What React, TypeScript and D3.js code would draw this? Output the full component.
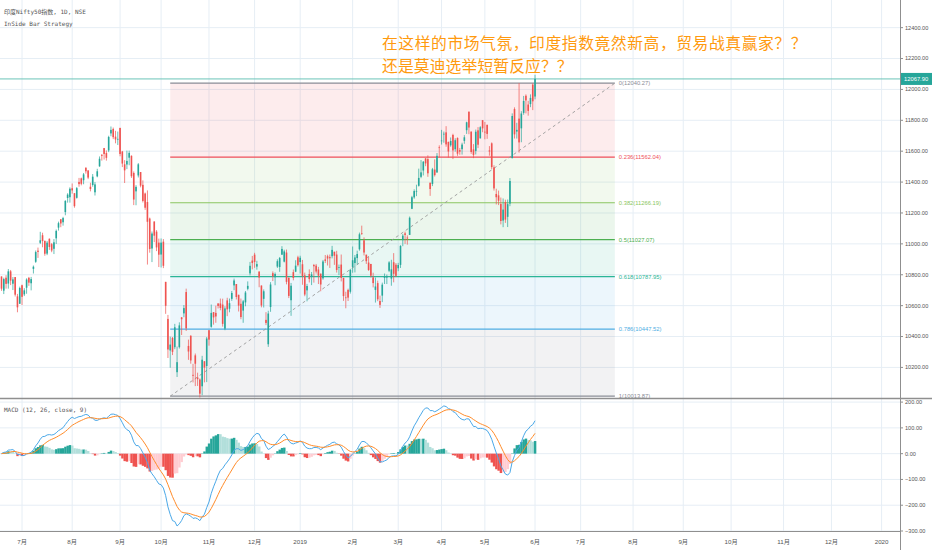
import React, { useRef, useEffect } from "react";
import * as d3 from "d3";

const WIDTH = 932;
const HEIGHT = 550;

// daily candles [open, high, low, close], 2018-06-19 .. 2019-06-03
const candles: number[][] = [
  [10789, 10789, 10696, 10710], [10697, 10781, 10675, 10772], [10781, 10797, 10710, 10741],
  [10743, 10837, 10710, 10822], [10822, 10831, 10733, 10762], [10742, 10785, 10701, 10770],
  [10785, 10785, 10659, 10671], [10660, 10676, 10557, 10589], [10612, 10723, 10612, 10714],
  // Jul
  [10732, 10736, 10604, 10657], [10673, 10713, 10662, 10699], [10716, 10777, 10677, 10769],
  [10780, 10786, 10728, 10749], [10745, 10786, 10699, 10772], [10838, 10860, 10808, 10852],
  [10884, 10957, 10877, 10947], [10956, 10976, 10909, 10948], [11007, 11078, 10999, 11023],
  [11056, 11072, 10978, 11018], [11020, 11020, 10923, 10936], [10937, 11019, 10927, 11008],
  [11033, 11035, 10961, 10980], [10998, 11006, 10946, 10957], [10968, 11031, 10934, 11010],
  [11036, 11093, 10999, 11084], [11105, 11144, 11086, 11134], [11159, 11161, 11108, 11132],
  [11140, 11175, 11118, 11167], [11206, 11283, 11185, 11278], [11297, 11328, 11267, 11319],
  [11302, 11366, 11267, 11357],
  // Aug
  [11360, 11391, 11325, 11346], [11328, 11328, 11234, 11244], [11298, 11368, 11293, 11361],
  [11401, 11427, 11370, 11387], [11424, 11429, 11379, 11389], [11412, 11459, 11386, 11450],
  [11493, 11495, 11455, 11470], [11475, 11478, 11419, 11429], [11370, 11396, 11340, 11355],
  [11381, 11452, 11370, 11435], [11334, 11400, 11313, 11385], [11437, 11486, 11431, 11470],
  [11502, 11566, 11499, 11551], [11576, 11582, 11539, 11570], [11620, 11621, 11546, 11582],
  [11588, 11605, 11539, 11557], [11605, 11700, 11594, 11692], [11715, 11760, 11697, 11738],
  [11744, 11753, 11678, 11691], [11694, 11732, 11651, 11676], [11675, 11727, 11640, 11680],
  // Sep
  [11751, 11751, 11567, 11582], [11598, 11602, 11497, 11520], [11515, 11542, 11394, 11476],
  [11514, 11604, 11484, 11537], [11558, 11604, 11509, 11589], [11570, 11573, 11427, 11438],
  [11459, 11469, 11251, 11287], [11340, 11380, 11250, 11369], [11443, 11523, 11430, 11515],
  [11465, 11465, 11366, 11377], [11382, 11411, 11268, 11278], [11326, 11332, 11220, 11234],
  [11271, 11346, 10866, 11143], [11164, 11170, 10943, 10967], [10970, 11080, 10882, 11067],
  [11145, 11145, 11011, 11053], [11079, 11089, 10953, 10977], [11008, 11034, 10850, 10930],
  // Oct
  [10931, 11035, 10847, 11008], [11014, 11031, 10843, 10858], [10754, 10754, 10547, 10599],
  [10514, 10540, 10261, 10316], [10310, 10399, 10198, 10348], [10391, 10397, 10280, 10301],
  [10331, 10482, 10318, 10460], [10169, 10335, 10138, 10234], [10331, 10492, 10322, 10472],
  [10524, 10526, 10410, 10512], [10550, 10604, 10525, 10584], [10688, 10710, 10436, 10453],
  [10339, 10380, 10249, 10303], [10405, 10408, 10224, 10245], [10152, 10223, 10103, 10146],
  [10278, 10290, 10079, 10224], [10135, 10166, 10080, 10124], [10122, 10129, 10005, 10030],
  [10078, 10275, 10020, 10250], [10240, 10240, 10103, 10199], [10209, 10397, 10105, 10387],
  // Nov
  [10441, 10441, 10341, 10380], [10463, 10607, 10457, 10553], [10558, 10558, 10477, 10524],
  [10553, 10600, 10489, 10530], [10614, 10616, 10582, 10598], [10614, 10646, 10570, 10585],
  [10607, 10645, 10464, 10482], [10451, 10596, 10441, 10582], [10634, 10651, 10532, 10576],
  [10580, 10646, 10557, 10616], [10644, 10695, 10631, 10682], [10731, 10775, 10700, 10763],
  [10740, 10740, 10640, 10656], [10670, 10671, 10562, 10600], [10612, 10646, 10512, 10526],
  [10568, 10637, 10489, 10628], [10621, 10695, 10596, 10685], [10709, 10757, 10699, 10728],
  [10809, 10883, 10796, 10858], [10892, 10922, 10835, 10876],
  // Dec
  [10930, 10942, 10845, 10883], [10853, 10890, 10833, 10869], [10821, 10821, 10719, 10782],
  [10730, 10731, 10589, 10601], [10644, 10705, 10588, 10693], [10508, 10558, 10474, 10488],
  [10350, 10567, 10333, 10549], [10591, 10752, 10560, 10737], [10810, 10822, 10759, 10791],
  [10784, 10815, 10732, 10805], [10853, 10900, 10844, 10888], [10850, 10915, 10819, 10908],
  [10930, 10985, 10929, 10967], [10885, 10962, 10880, 10951], [10944, 10963, 10738, 10754],
  [10780, 10783, 10649, 10663], [10635, 10747, 10534, 10729], [10817, 10834, 10764, 10779],
  [10820, 10894, 10817, 10859], [10913, 10923, 10853, 10862],
  // Jan 2019
  [10882, 10923, 10808, 10910], [10868, 10896, 10735, 10792], [10796, 10814, 10661, 10672],
  [10699, 10741, 10628, 10727], [10805, 10835, 10750, 10772], [10786, 10818, 10733, 10802],
  [10863, 10870, 10749, 10855], [10859, 10870, 10808, 10821], [10834, 10851, 10740, 10794],
  [10807, 10808, 10693, 10737], [10777, 10896, 10768, 10886], [10899, 10928, 10876, 10890],
  [10920, 10930, 10860, 10905], [10914, 10931, 10844, 10907], [10920, 10987, 10906, 10961],
  [10949, 10949, 10864, 10923], [10931, 10955, 10814, 10831], [10844, 10866, 10798, 10849],
  [10866, 10931, 10757, 10780], [10780, 10780, 10631, 10662], [10653, 10690, 10583, 10652],
  [10702, 10710, 10630, 10652], [10690, 10838, 10678, 10831],
  // Feb
  [10851, 10983, 10813, 10894], [10876, 10928, 10815, 10912], [10908, 10956, 10867, 10934],
  [10965, 11073, 10956, 11062], [11070, 11118, 11058, 11069], [11023, 11042, 10925, 10944],
  [10930, 10930, 10870, 10888], [10879, 10916, 10825, 10831], [10870, 10870, 10782, 10794],
  [10783, 10813, 10718, 10746], [10702, 10782, 10620, 10724], [10746, 10762, 10629, 10641],
  [10630, 10665, 10585, 10605], [10665, 10749, 10623, 10736], [10780, 10808, 10740, 10789],
  [10782, 10801, 10740, 10792], [10826, 10888, 10817, 10880], [10775, 10897, 10729, 10835],
  [10881, 10940, 10751, 10806], [10865, 10876, 10785, 10793],
  // Mar
  [10842, 10877, 10823, 10863], [10864, 10991, 10844, 10987], [11024, 11063, 10985, 11053],
  [11068, 11079, 11000, 11058], [11041, 11055, 10995, 11035], [11058, 11177, 11058, 11169],
  [11227, 11311, 11225, 11302], [11301, 11353, 11292, 11342], [11343, 11383, 11309, 11343],
  [11376, 11487, 11371, 11427], [11434, 11543, 11425, 11463], [11475, 11536, 11443, 11532],
  [11553, 11556, 11503, 11521], [11549, 11573, 11434, 11457], [11396, 11396, 11311, 11355],
  [11388, 11492, 11374, 11483], [11481, 11547, 11436, 11445], [11463, 11588, 11459, 11570],
  [11625, 11638, 11560, 11624],
  // Apr
  [11665, 11738, 11643, 11669], [11712, 11727, 11655, 11713], [11722, 11762, 11629, 11644],
  [11660, 11662, 11559, 11598], [11638, 11689, 11629, 11666], [11705, 11713, 11549, 11605],
  [11613, 11684, 11597, 11671], [11686, 11689, 11570, 11584], [11607, 11621, 11577, 11597],
  [11613, 11655, 11578, 11643], [11667, 11704, 11648, 11690], [11736, 11791, 11712, 11787],
  [11856, 11856, 11710, 11753], [11727, 11727, 11583, 11595], [11612, 11646, 11555, 11576],
  [11602, 11740, 11579, 11726], [11735, 11756, 11620, 11642], [11683, 11762, 11683, 11755],
  [11801, 11801, 11723, 11748],
  // May
  [11726, 11789, 11677, 11725], [11771, 11771, 11680, 11712], [11605, 11633, 11571, 11598],
  [11651, 11657, 11484, 11497], [11495, 11509, 11345, 11359], [11323, 11357, 11255, 11302],
  [11314, 11345, 11251, 11279], [11258, 11300, 11126, 11148], [11151, 11294, 11108, 11222],
  [11271, 11286, 11136, 11157], [11175, 11287, 11109, 11257], [11261, 11426, 11244, 11407],
  [11555, 11845, 11554, 11828], [11873, 11884, 11682, 11709], [11727, 11784, 11682, 11738],
  [11811, 12041, 11591, 11657], [11748, 11859, 11658, 11844], [11848, 11958, 11836, 11925],
  [11959, 11968, 11845, 11929], [11902, 11926, 11830, 11861], [11905, 11968, 11885, 11945],
  [12031, 12039, 11866, 11923],
  // Jun 3
  [11954, 12095, 11936, 12067.9],
];

const lastPrice = 12067.9;
const priceTicks = [10200, 10400, 10600, 10800, 11000, 11200, 11400, 11600, 11800, 12000, 12200, 12400];
const macdTicks = [200, 100, 0, -100, -200, -300];

// month labels on the time axis and the bar index where each month starts
const monthLabels = ["7月", "8月", "9月", "10月", "11月", "12月", "2019", "2月", "3月", "4月", "5月", "6月",
  "7月", "8月", "9月", "10月", "11月", "12月", "2020"];
const monthBars = [9, 31, 52, 70, 91, 111, 131, 154, 174, 193, 212, 234, 254, 277, 299, 320, 343, 364, 386];

// fibonacci retracement drawing
const fibRatios = ["0", "0.236", "0.382", "0.5", "0.618", "0.786", "1"];
const fibPrices = [12040.27, 11562.04, 11266.19, 11027.07, 10787.95, 10447.52, 10013.87];
const fibColors = ["#8a8d96", "#ef4f5a", "#8bc660", "#4caf50", "#2bb596", "#4faee3", "#8a8d96"];
const fibStartBar = 74;
const fibEndBar = 269;

const noteLines = ["在这样的市场气氛，印度指数竟然新高，贸易战真赢家？？", "还是莫迪选举短暂反应？？"];

const ema = (vals: number[], n: number) => {
  const k = 2 / (n + 1);
  const out: number[] = [];
  vals.forEach((v, i) => out.push(i === 0 ? v : v * k + out[i - 1] * (1 - k)));
  return out;
};

const App = () => {
  const ref = useRef<SVGSVGElement>(null);

  useEffect(() => {
    const svg = d3.select(ref.current);
    svg.selectAll("*").remove();

    const axisX = 900;
    const priceBottom = 398;
    const macdTop = 399;
    const macdBottom = 531;

    const x = d3.scaleLinear().domain([0, 386]).range([1.5, 881.6]);
    const y = d3.scaleLinear().domain([10002, 12579]).range([priceBottom, 0]);
    const ym = d3.scaleLinear().domain([-300, 212]).range([macdBottom, macdTop]);

    const mono = "'DejaVu Sans Mono', 'Noto Sans CJK SC', monospace";
    const axisFont = "'Liberation Sans', 'Noto Sans CJK SC', sans-serif";

    svg.append("rect").attr("width", WIDTH).attr("height", HEIGHT).attr("fill", "#fff");

    const defs = svg.append("defs");
    defs.append("clipPath").attr("id", "pclip").append("rect")
      .attr("x", 0).attr("y", 0).attr("width", axisX).attr("height", priceBottom);
    defs.append("clipPath").attr("id", "mclip").append("rect")
      .attr("x", 0).attr("y", macdTop).attr("width", axisX).attr("height", macdBottom - macdTop);

    // grid
    const grid = svg.append("g").attr("stroke", "#e6eef5").attr("stroke-width", 1);
    monthBars.forEach((b) => {
      grid.append("line").attr("x1", x(b)).attr("x2", x(b)).attr("y1", 0).attr("y2", macdBottom);
    });
    priceTicks.forEach((p) => {
      grid.append("line").attr("x1", 0).attr("x2", axisX).attr("y1", y(p)).attr("y2", y(p));
    });
    macdTicks.forEach((m) => {
      grid.append("line").attr("x1", 0).attr("x2", axisX).attr("y1", ym(m)).attr("y2", ym(m));
    });

    // fib retracement
    const price = svg.append("g").attr("clip-path", "url(#pclip)");
    const fx0 = x(fibStartBar);
    const fx1 = x(fibEndBar);
    for (let i = 1; i < fibPrices.length; i++) {
      price.append("rect")
        .attr("x", fx0).attr("width", fx1 - fx0)
        .attr("y", y(fibPrices[i - 1])).attr("height", y(fibPrices[i]) - y(fibPrices[i - 1]))
        .attr("fill", fibColors[i]).attr("fill-opacity", 0.11);
    }
    fibPrices.forEach((p, i) => {
      price.append("line").attr("x1", fx0).attr("x2", fx1).attr("y1", y(p)).attr("y2", y(p))
        .attr("stroke", fibColors[i]).attr("stroke-width", 1.2);
      price.append("text").attr("x", fx1 + 4).attr("y", y(p)).attr("dy", "0.35em")
        .attr("font-family", axisFont).attr("font-size", 5.8).attr("fill", fibColors[i])
        .text(`${fibRatios[i]}(${d3.format(".2f")(p)})`);
    });
    price.append("line")
      .attr("x1", fx0).attr("y1", y(fibPrices[6])).attr("x2", fx1).attr("y2", y(fibPrices[0]))
      .attr("stroke", "#9a9a9a").attr("stroke-width", 0.9).attr("stroke-dasharray", "3,3");

    // last price line
    price.append("line").attr("x1", 0).attr("x2", axisX).attr("y1", y(lastPrice)).attr("y2", y(lastPrice))
      .attr("stroke", "#6cc5b8").attr("stroke-width", 1);

    // candles
    const up = "#26a69a";
    const down = "#ef5350";
    candles.forEach(([o, h, l, c], i) => {
      const cx = x(i);
      const col = c >= o ? up : down;
      price.append("line").attr("x1", cx).attr("x2", cx).attr("y1", y(h)).attr("y2", y(l))
        .attr("stroke", col).attr("stroke-width", 0.7);
      const top = y(Math.max(o, c));
      const hgt = Math.max(0.7, Math.abs(y(o) - y(c)));
      price.append("rect").attr("x", cx - 0.8).attr("width", 1.6).attr("y", top).attr("height", hgt)
        .attr("fill", col);
    });

    // MACD
    const closes = candles.map((d) => d[3]);
    const e12 = ema(closes, 12);
    const e26 = ema(closes, 26);
    const macd = closes.map((_, i) => e12[i] - e26[i]);
    const signal = ema(macd, 9);
    const hist = macd.map((m, i) => m - signal[i]);

    const mg = svg.append("g").attr("clip-path", "url(#mclip)");
    const bw = x(1) - x(0);
    hist.forEach((h, i) => {
      const prev = i > 0 ? hist[i - 1] : h;
      let col;
      if (h >= 0) col = prev < h ? "#26a69a" : "#b2dfdb";
      else col = prev < h ? "#ffcdd2" : "#ef5350";
      const y0 = ym(0);
      const y1 = ym(h);
      mg.append("rect").attr("x", x(i) - bw / 2).attr("width", bw + 0.15)
        .attr("y", Math.min(y0, y1)).attr("height", Math.max(0.3, Math.abs(y1 - y0)))
        .attr("fill", col);
    });
    const lineGen = d3.line<number>().x((_, i) => x(i)).y((d) => ym(d));
    mg.append("path").attr("d", lineGen(macd) || "").attr("fill", "none")
      .attr("stroke", "#4aa8e8").attr("stroke-width", 1);
    mg.append("path").attr("d", lineGen(signal) || "").attr("fill", "none")
      .attr("stroke", "#ff8c2a").attr("stroke-width", 1);

    // panel separators and axes
    svg.append("line").attr("x1", 0).attr("x2", WIDTH).attr("y1", 398.5).attr("y2", 398.5)
      .attr("stroke", "#8f8f8f").attr("stroke-width", 1.5);
    svg.append("line").attr("x1", 0).attr("x2", axisX).attr("y1", macdBottom + 0.5).attr("y2", macdBottom + 0.5)
      .attr("stroke", "#8f8f8f").attr("stroke-width", 1.2);
    svg.append("line").attr("x1", axisX + 0.5).attr("x2", axisX + 0.5).attr("y1", 0).attr("y2", HEIGHT)
      .attr("stroke", "#8f8f8f").attr("stroke-width", 1);

    const ax = svg.append("g").attr("font-family", axisFont).attr("font-size", 5.6).attr("fill", "#555");
    priceTicks.forEach((p) => {
      ax.append("line").attr("x1", axisX).attr("x2", axisX + 3).attr("y1", y(p)).attr("y2", y(p))
        .attr("stroke", "#8f8f8f");
      ax.append("text").attr("x", axisX + 5).attr("y", y(p)).attr("dy", "0.35em").text(d3.format(".2f")(p));
    });
    macdTicks.forEach((m) => {
      ax.append("line").attr("x1", axisX).attr("x2", axisX + 3).attr("y1", ym(m)).attr("y2", ym(m))
        .attr("stroke", "#8f8f8f");
      ax.append("text").attr("x", axisX + 5).attr("y", ym(m)).attr("dy", "0.35em").text(d3.format(".2f")(m));
    });
    monthLabels.forEach((t, i) => {
      ax.append("text").attr("x", x(monthBars[i])).attr("y", 544).attr("text-anchor", "middle")
        .attr("font-size", 6.2).text(t);
    });

    // last price tag
    const ly = y(lastPrice);
    svg.append("rect").attr("x", axisX + 1).attr("y", ly - 6).attr("width", WIDTH - axisX - 1).attr("height", 12)
      .attr("fill", "#26a69a");
    svg.append("text").attr("x", axisX + 4).attr("y", ly).attr("dy", "0.35em")
      .attr("font-family", axisFont).attr("font-size", 5.8).attr("fill", "#fff")
      .text(d3.format(".2f")(lastPrice));

    // titles
    svg.append("text").attr("x", 4).attr("y", 14).attr("font-family", mono).attr("font-size", 6)
      .attr("fill", "#555").text("印度Nifty50指数, 1D, NSE");
    svg.append("text").attr("x", 4).attr("y", 26).attr("font-family", mono).attr("font-size", 6)
      .attr("fill", "#555").text("InSide Bar Strategy");
    svg.append("text").attr("x", 4).attr("y", 412).attr("font-family", mono).attr("font-size", 6)
      .attr("fill", "#555").text("MACD (12, 26, close, 9)");

    // annotation, two lines
    noteLines.forEach((t, i) => {
      svg.append("text").attr("x", 382).attr("y", i === 0 ? 48.5 : 71.5)
        .attr("font-family", "'Noto Sans CJK SC', sans-serif")
        .attr("font-size", 15.8).attr("letter-spacing", i === 0 ? 0.55 : 0.1)
        .attr("fill", "#ff9a0e").text(t);
    });
  }, []);

  return (
    <svg
      ref={ref}
      width={WIDTH}
      height={HEIGHT}
      style={{ position: "absolute", left: 0, top: 0, display: "block" }}
    />
  );
};

export default App;
